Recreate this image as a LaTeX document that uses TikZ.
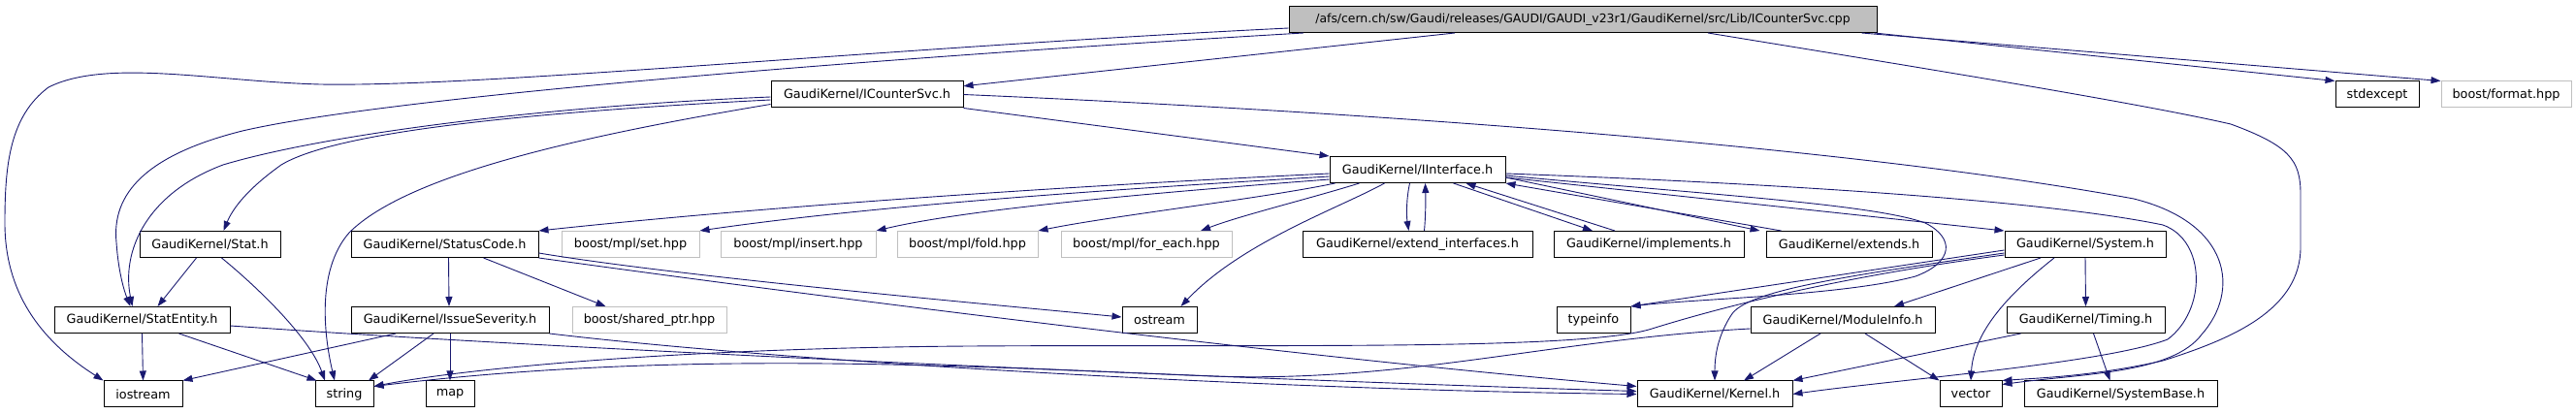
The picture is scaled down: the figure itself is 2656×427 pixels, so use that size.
\documentclass[tikz,border=0pt]{standalone}
\usepackage{fontspec}
\newfontfamily\dvsans{DejaVu Sans}
\usetikzlibrary{arrows.meta}
\definecolor{edgeblue}{RGB}{25,25,112}
\definecolor{boxgray}{RGB}{191,191,191}

\begin{document}
\begin{tikzpicture}[x=1pt,y=-1pt,
		file/.style={draw=black,line width=1pt,rectangle,minimum height=27pt,inner sep=0pt,font=\dvsans\fontsize{12.8}{14}\selectfont},
		nofile/.style={file,draw=boxgray},
		inc/.style={draw=edgeblue,line width=0.9pt,-{Triangle[length=10pt,width=7pt]}}
		]
	\useasboundingbox (0,0) rectangle (2656,427);

	% Fájlok
	% ----------------------

		% forrásfájl
		\node[file,fill=boxgray,minimum width=606pt,font=\dvsans\fontsize{12.4}{14}\selectfont] (root) at (1632,20) {/afs/cern.ch/sw/Gaudi/releases/GAUDI/GAUDI\_v23r1/GaudiKernel/src/Lib/ICounterSvc.cpp};

		% 2. sor
		\node[file,minimum width=198pt] (icounter) at (894,97.5) {GaudiKernel/ICounterSvc.h};
		\node[file,minimum width=86pt] (stdexcept) at (2451,97.5) {stdexcept};
		\node[nofile,minimum width=134pt] (format) at (2584,97.5) {boost/format.hpp};

		% 3. sor
		\node[file,minimum width=181pt] (iinterface) at (1461.5,175) {GaudiKernel/IInterface.h};

		% 4. sor
		\node[file,minimum width=145pt] (stat) at (216.5,252) {GaudiKernel/Stat.h};
		\node[file,minimum width=193pt] (statuscode) at (458.5,252) {GaudiKernel/StatusCode.h};
		\node[nofile,minimum width=142pt] (mplset) at (650,252) {boost/mpl/set.hpp};
		\node[nofile,minimum width=160pt] (mplinsert) at (823,252) {boost/mpl/insert.hpp};
		\node[nofile,minimum width=145pt] (mplfold) at (997.5,252) {boost/mpl/fold.hpp};
		\node[nofile,minimum width=176pt] (mplforeach) at (1182,252) {boost/mpl/for\_each.hpp};
		\node[file,minimum width=237pt] (extend) at (1461.5,252) {GaudiKernel/extend\_interfaces.h};
		\node[file,minimum width=196pt] (implements) at (1700,252) {GaudiKernel/implements.h};
		\node[file,minimum width=171pt] (extends) at (1906.5,252) {GaudiKernel/extends.h};
		\node[file,minimum width=166pt] (system) at (2150,252) {GaudiKernel/System.h};

		% 5. sor
		\node[file,minimum width=181pt] (statentity) at (146.5,330) {GaudiKernel/StatEntity.h};
		\node[file,minimum width=204pt] (severity) at (464,330) {GaudiKernel/IssueSeverity.h};
		\node[nofile,minimum width=159pt] (sharedptr) at (669.5,330) {boost/shared\_ptr.hpp};
		\node[file,minimum width=77pt] (ostream) at (1195.5,330) {ostream};
		\node[file,minimum width=76pt] (typeinfo) at (1643,330) {typeinfo};
		\node[file,minimum width=190pt] (modinfo) at (1900,330) {GaudiKernel/ModuleInfo.h};
		\node[file,minimum width=163pt] (timing) at (2150.5,330) {GaudiKernel/Timing.h};

		% 6. sor
		\node[file,minimum width=81pt] (iostream) at (147.5,406.5) {iostream};
		\node[file,minimum width=60pt] (string) at (355,406.5) {string};
		\node[file,minimum width=50pt] (map) at (464,406.5) {map};
		\node[file,minimum width=160pt] (kernel) at (1768,406.5) {GaudiKernel/Kernel.h};
		\node[file,minimum width=64pt] (vector) at (2032,406.5) {vector};
		\node[file,minimum width=199pt] (sysbase) at (2186.5,406.5) {GaudiKernel/SystemBase.h};

	% Include nyilak
	% ----------------------

	% ICounterSvc.cpp
	\draw[inc] ([xshift=-132pt]root.south) -- (icounter.5);
	\draw[inc] ([xshift=-3pt]root.south east) -- (stdexcept.north west);
	\draw[inc] ([xshift=-16pt]root.south east) -- (format.north west);
	\draw[inc] ([yshift=-9pt]root.west) .. controls (900,50) and (500,90) .. (330,87) .. controls (220,84) and (110,60) .. (50,90) .. controls (10,120) and (5,170) .. (5,230) .. controls (5,300) and (40,350) .. (iostream.north west);
	\draw[inc] ([xshift=-288pt]root.south) .. controls (900,60) and (400,100) .. (250,135) .. controls (150,160) and (115,200) .. (120,250) .. controls (122,280) and (128,300) .. ([xshift=-12pt]statentity.north);
	\draw[inc] ([xshift=129pt]root.south) .. controls (1950,65) and (2200,105) .. (2300,128) .. controls (2360,150) and (2372,165) .. (2372,200) -- (2372,255) .. controls (2372,320) and (2300,350) .. (2230,372) .. controls (2160,388) and (2100,390) .. (vector.north east);

	% ICounterSvc.h
	\draw[inc] (icounter.south east) -- (iinterface.north west);
	\draw[inc] (icounter.east) .. controls (1400,115) and (1900,150) .. (2200,205) .. controls (2300,230) and (2310,300) .. (2270,345) .. controls (2240,385) and (2150,385) .. ([yshift=-4pt]vector.north east);
	\draw[inc] ([yshift=-2.5pt]icounter.west) .. controls (550,110) and (330,140) .. (230,170) .. controls (150,200) and (125,260) .. ([xshift=-10pt]statentity.north);
	\draw[inc] ([yshift=-5.5pt]icounter.west) .. controls (500,118) and (340,140) .. (290,170) .. controls (255,195) and (240,215) .. ([xshift=14pt]stat.north);
	\draw[inc] ([yshift=-10pt]icounter.west) .. controls (600,140) and (420,180) .. (360,240) .. controls (325,280) and (335,350) .. ([xshift=-10pt]string.north);

	% IInterface.h
	\draw[inc] ([yshift=-4pt]iinterface.west) .. controls (1100,192) and (800,212) .. (statuscode.north east);
	\draw[inc] ([yshift=-7pt]iinterface.west) .. controls (1150,195) and (900,212) .. (mplset.north east);
	\draw[inc] ([yshift=-10pt]iinterface.west) .. controls (1200,198) and (1000,215) .. (mplinsert.north east);
	\draw[inc] ([xshift=-85pt]iinterface.south) .. controls (1300,205) and (1150,222) .. (mplfold.north east);
	\draw[inc] ([xshift=-60pt]iinterface.south) .. controls (1350,205) and (1280,222) .. ([xshift=56pt]mplforeach.north);
	\draw[inc] ([xshift=-34pt]iinterface.south) .. controls (1380,215) and (1280,250) .. ([xshift=22pt]ostream.north);
	\draw[inc] ([xshift=-8pt]iinterface.south) .. controls (1450,205) and (1450,222) .. ([xshift=-9pt]extend.north);
	\draw[inc] ([xshift=37pt]iinterface.south) -- ([xshift=-58pt]implements.north);
	\draw[inc] ([yshift=6pt]iinterface.south east) -- ([xshift=-6pt]extends.north west);
	\draw[inc] ([yshift=-8pt]iinterface.east) -- (system.north west);
	\draw[inc] ([yshift=-6pt]iinterface.east) .. controls (1750,200) and (1930,210) .. (1985,230) .. controls (2015,245) and (2015,270) .. (1975,285) .. controls (1900,305) and (1750,308) .. (typeinfo.north east);
	\draw[inc] ([yshift=-4pt]iinterface.east) .. controls (1800,188) and (2100,205) .. (2230,232) .. controls (2275,248) and (2275,320) .. (2235,350) .. controls (2170,375) and (1950,392) .. (kernel.east);

	% visszafelé mutató include-ok
	\draw[inc] ([xshift=7pt]extend.north) .. controls (1470,222) and (1470,205) .. ([xshift=8pt]iinterface.south);
	\draw[inc] ([xshift=-35pt]implements.north) -- ([xshift=50pt]iinterface.south);
	\draw[inc] ([xshift=-70pt]extends.north) -- (iinterface.south east);

	% System.h
	\draw[inc] ([yshift=-6pt]system.west) -- (typeinfo.north east);
	\draw[inc] ([yshift=-9pt]system.west) .. controls (1900,285) and (1800,300) .. (1785,325) .. controls (1772,345) and (1768,365) .. (kernel.north);
	\draw[inc] ([yshift=-11pt]system.west) .. controls (1900,285) and (1780,315) .. (1700,340) .. controls (1620,362) and (1300,355) .. (1000,357) .. controls (700,359) and (480,380) .. ([yshift=8pt]string.east);
	\draw[inc] ([xshift=-46pt]system.south) -- ([xshift=53pt]modinfo.north);
	\draw[inc] (system.south) -- (timing.north);
	\draw[inc] ([xshift=-32pt]system.south) .. controls (2075,300) and (2035,340) .. (vector.north);

	% ModuleInfo.h
	\draw[inc] ([yshift=-9pt]modinfo.west) .. controls (1600,350) and (1450,395) .. (1250,388) .. controls (1000,378) and (700,360) .. ([yshift=8pt]string.east);
	\draw[inc] ([xshift=-23pt]modinfo.south) -- ([xshift=30pt]kernel.north);
	\draw[inc] ([xshift=23pt]modinfo.south) -- (vector.north west);

	% Timing.h
	\draw[inc] ([xshift=-67pt]timing.south) -- (kernel.north east);
	\draw[inc] ([xshift=8pt]timing.south) -- ([xshift=-11pt]sysbase.north);

	% StatusCode.h
	\draw[inc] ([xshift=4pt]statuscode.south) -- ([xshift=-1pt]severity.north);
	\draw[inc] ([xshift=40pt]statuscode.south) -- ([xshift=-45pt]sharedptr.north);
	\draw[inc] ([yshift=-9pt]statuscode.east) .. controls (700,285) and (1000,312) .. ([yshift=3pt]ostream.west);
	\draw[inc] (statuscode.south east) .. controls (800,300) and (1300,365) .. ([yshift=8pt]kernel.west);

	% Stat.h
	\draw[inc] ([xshift=-14pt]stat.south) -- ([xshift=16pt]statentity.north);
	\draw[inc] ([xshift=12pt]stat.south) .. controls (270,300) and (320,350) .. ([xshift=-20pt]string.north);

	% StatEntity.h
	\draw[inc] (statentity.south) -- (iostream.north);
	\draw[inc] ([xshift=38pt]statentity.south) -- ([xshift=2pt]string.north west);
	\draw[inc] ([yshift=-6pt]statentity.east) .. controls (600,362) and (1300,392) .. ([yshift=3pt]kernel.west);

	% IssueSeverity.h
	\draw[inc] ([xshift=-56pt]severity.south) -- (iostream.north east);
	\draw[inc] ([xshift=-17pt]severity.south) -- ([xshift=25pt]string.north);
	\draw[inc] (severity.south) -- (map.north);
	\draw[inc] (severity.south east) .. controls (800,372) and (1300,402) .. (kernel.west);

	\end{tikzpicture}
\end{document}
